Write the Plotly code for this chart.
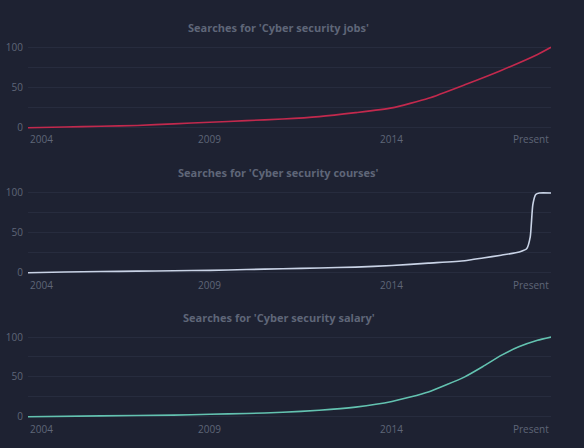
import plotly.graph_objects as go

# data (years as decimals, "Present" ~ mid 2018)
jobs_years = [2004, 2005, 2006, 2007, 2008, 2009, 2010, 2011, 2012, 2013, 2014, 2015, 2016, 2017, 2018, 2018.37]
jobs_vals = [-1, 0, 1, 2, 4, 6, 8, 10, 13, 18, 24, 36, 53, 71, 91, 100]

courses_years = [2004, 2005, 2006, 2007, 2008, 2009, 2010, 2011, 2012, 2013, 2014, 2015, 2016,
                 2016.5, 2017, 2017.5, 2017.7, 2017.8, 2017.87, 2017.95, 2018.05, 2018.37]
courses_vals = [0, 1, 1.5, 2, 2.5, 3, 4, 5, 6, 7, 9, 12, 15, 18.5, 22, 26, 30, 45, 85, 98, 100, 100]

salary_years = [2004, 2006, 2008, 2009, 2010, 2011, 2012, 2013, 2014, 2015, 2016, 2016.5, 2017, 2017.5, 2018, 2018.37]
salary_vals = [0, 1, 2, 3, 4, 5.5, 8, 12, 19, 31, 50, 63, 77, 88, 96, 100]

x_tick_vals = [2004, 2009, 2014, 2018.37]
x_tick_text = ["2004", "2009", "2014", "Present"]
y_tick_vals = [0, 25, 50, 75, 100]
y_tick_text = ["0", "", "50", "", "100"]

titles = ["Searches for 'Cyber security jobs'",
          "Searches for 'Cyber security courses'",
          "Searches for 'Cyber security salary'"]

bg = "#1e2232"
grid = "#272c3e"
label_col = "#5f6678"

# one panel per search term: data, line colour, axis suffix, y domain, title y, x-label y
panels = [(jobs_years, jobs_vals, "#c2294d", "", [0.7138, 0.9091], 0.9464, 0.6942),
          (courses_years, courses_vals, "#c9d3e6", "2", [0.3834, 0.5787], 0.6183, 0.3638),
          (salary_years, salary_vals, "#63c2b0", "3", [0.0570, 0.2520], 0.2902, 0.0357)]

fig = go.Figure()

for (xs, ys, col, ax, dom, ty, ly), title in zip(panels, titles):
    fig.add_trace(go.Scatter(x=xs, y=ys, mode="lines",
                             line=dict(color=col, width=1.6, shape="spline", smoothing=0.5),
                             xaxis="x" + ax, yaxis="y" + ax, showlegend=False, hoverinfo="skip"))
    fig.update_layout({
        "xaxis" + ax: dict(domain=[0, 1], range=[2004, 2018.37], showgrid=False, zeroline=False,
                           showticklabels=False, anchor="y" + ax),
        "yaxis" + ax: dict(domain=dom, range=[-4, 104], tickvals=y_tick_vals, ticktext=y_tick_text,
                           showgrid=True, gridcolor=grid, gridwidth=1, zeroline=False,
                           tickfont=dict(size=10, color=label_col), anchor="x" + ax, ticklabelstandoff=4),
    })
    # x labels: first left-aligned, last right-aligned
    for i, (tv, tt) in enumerate(zip(x_tick_vals, x_tick_text)):
        anchor = "left" if i == 0 else ("right" if i == len(x_tick_vals) - 1 else "center")
        fig.add_annotation(x=tv, y=ly, xref="x" + ax, yref="paper", text=tt, showarrow=False,
                           xanchor=anchor, yanchor="middle", font=dict(size=10, color=label_col))
    fig.add_annotation(x=280 / 584, y=ty, xref="paper", yref="paper", text="<b>" + title + "</b>",
                       showarrow=False, xanchor="center", yanchor="middle",
                       font=dict(size=11, color=label_col, family="Open Sans"))

fig.update_layout(width=584, height=448, margin=dict(l=28, r=33, t=0, b=0),
                  paper_bgcolor=bg, plot_bgcolor=bg,
                  font=dict(family="Open Sans", color=label_col))

fig.write_html("out.html", config={"displayModeBar": False},
               post_script="document.body.style.margin='0';")
